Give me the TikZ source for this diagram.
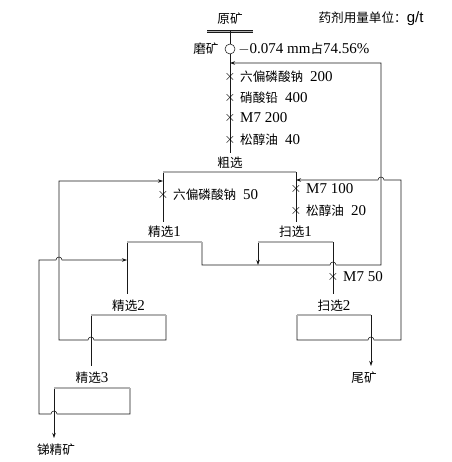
\documentclass[tikz,border=0pt]{standalone}
\usepackage{fontspec}
\setmainfont{Liberation Serif}
\setsansfont{Liberation Sans}
\newfontfamily\cjk{Noto Sans CJK SC}[Scale=0.84]
\usetikzlibrary{arrows.meta,positioning,calc}

\tikzset{
	pipe/.style={line width=0.55pt,draw=black!90},
	cell/.style={double=black!30,double distance=1.1pt,line width=0.5pt,draw=black!90},
	tip/.style={-{Stealth[length=5pt,width=3.5pt]}},
	lbl/.style={font=\fontsize{15}{17}\selectfont,inner sep=1pt},
	dose/.style={font=\fontsize{15}{17}\selectfont,inner sep=1pt,anchor=west},
}
% bump over a crossing line, going right / going left
\newcommand{\hopR}[1]{-- ($(#1)+(-3,0)$) arc[start angle=180,end angle=0,radius=3]}
\newcommand{\hopL}[1]{-- ($(#1)+(3,0)$) arc[start angle=0,end angle=180,radius=3]}
% reagent addition: cross on the line and dosage text
\newcommand{\reagent}[3]{\node[lbl,font=\fontsize{14}{16}\selectfont] (#1) at (#2) {$\times$};
	\node[dose] (#1t) at ($(#2)+(9,0)$) {#3};}
\newcommand{\gap}{\hspace{7pt}}

\begin{document}
\begin{tikzpicture}[x=1pt,y=1pt]
	\useasboundingbox (0,0) rectangle (451,-462);
	% feed and grinding
	\node[lbl] (ore) at (230,-19) {\cjk 原矿};
	\node[lbl] (unit) at (371,-19) {{\cjk 药剂用量单位：}{\sffamily g/t}};
	\coordinate (oreL) at (207,-31.5);
	\coordinate (oreR) at (253,-31.5);
	\coordinate (oreB) at (230,-31.5);
	\node[pipe,circle,minimum size=10pt,inner sep=0pt] (mill) at (230,-49) {};
	\node[lbl,left=5pt of mill] (millname) {\cjk 磨矿};
	\node[lbl,right=2pt of mill] (size) {$-$0.074 mm{\cjk 占}74.56\%};
	\coordinate (feedEnd) at (230,-153);
	\draw[cell] (oreL) -- (oreR);
	\draw[pipe] (oreB) -- (mill);
	\draw[pipe] (mill) -- (feedEnd);
	\reagent{r1}{230,-77}{{\cjk 六偏磷酸钠}\gap 200}
	\reagent{r2}{230,-98}{{\cjk 硝酸铅}\gap 400}
	\reagent{r3}{230,-118}{M7 200}
	\reagent{r4}{230,-140}{{\cjk 松醇油}\gap 40}

	% roughing
	\node[lbl] (rough) at (230,-163) {\cjk 粗选};
	\coordinate (roL) at (163,-172);
	\coordinate (roR) at (296,-172);
	\coordinate (roLB) at (163,-222);
	\coordinate (roRB) at (296,-222);
	\coordinate (roIn) at (163,-181);
	\coordinate (roRin) at (296,-180);
	\draw[pipe] (roL) -- (roLB);
	\draw[pipe] (roR) -- (roRB);
	\draw[cell] (roL) -- (roR);
	\reagent{r5}{163,-195}{{\cjk 六偏磷酸钠}\gap 50}
	\reagent{r6}{296,-189}{M7 100}
	\reagent{r7}{296,-211}{{\cjk 松醇油}\gap 20}

	% cleaner 1 and scavenger 1
	\node[lbl] (clean1) at (164.5,-232) {{\cjk 精选}1};
	\node[lbl] (scav1) at (295.5,-232) {{\cjk 扫选}1};
	\coordinate (c1L) at (127,-242);
	\coordinate (c1R) at (202,-242);
	\coordinate (c1LB) at (127,-294);
	\coordinate (c1RB) at (202,-265);
	\coordinate (c1In) at (127,-260);
	\coordinate (s1L) at (258,-242);
	\coordinate (s1R) at (333,-242);
	\coordinate (s1LB) at (258,-265);
	\coordinate (s1RB) at (333,-294);
	\coordinate (s1hop) at (333,-265);
	\coordinate (midR) at (381,-265);
	\coordinate (retTop) at (381,-63);
	\coordinate (retIn) at (230,-63);
	\draw[pipe] (c1L) -- (c1LB);
	\draw[pipe,tip] (c1R) -- (c1RB) \hopR{s1hop} -- (midR) -- (retTop) -- (retIn);
	\draw[pipe,tip] (s1L) -- (s1LB);
	\draw[pipe] (s1R) -- (s1RB);
	\draw[cell] (c1L) -- (c1R);
	\draw[cell] (s1L) -- (s1R);
	\reagent{r8}{333,-277}{M7 50}

	% cleaner 2 and scavenger 2
	\node[lbl] (clean2) at (128.5,-306) {{\cjk 精选}2};
	\node[lbl] (scav2) at (334,-306) {{\cjk 扫选}2};
	\coordinate (c2L) at (91,-315);
	\coordinate (c2R) at (166,-315);
	\coordinate (c2LB) at (91,-366);
	\coordinate (c2RB) at (166,-340);
	\coordinate (c2hop) at (91,-340);
	\coordinate (c2Back) at (59,-340);
	\coordinate (c2Up) at (59,-181);
	\coordinate (s2L) at (297,-315);
	\coordinate (s2R) at (371,-315);
	\coordinate (s2LB) at (297,-340);
	\coordinate (s2hop) at (371,-340);
	\coordinate (s2Back) at (401,-340);
	\coordinate (s2Up) at (401,-180);
	\coordinate (retHop) at (381,-180);
	\coordinate (tail) at (371,-366);
	\draw[pipe] (c2L) -- (c2LB);
	\draw[pipe,tip] (c2R) -- (c2RB) \hopL{c2hop} -- (c2Back) -- (c2Up) -- (roIn);
	\draw[pipe,tip] (s2L) -- (s2LB) \hopR{s2hop} -- (s2Back) -- (s2Up) \hopL{retHop} -- (roRin);
	\draw[pipe,tip] (s2R) -- (tail);
	\draw[cell] (c2L) -- (c2R);
	\draw[cell] (s2L) -- (s2R);
	\node[lbl] (tailname) at (364,-378) {\cjk 尾矿};

	% cleaner 3
	\node[lbl] (clean3) at (92,-378) {{\cjk 精选}3};
	\coordinate (c3L) at (54,-388);
	\coordinate (c3R) at (130,-388);
	\coordinate (c3RB) at (130,-414);
	\coordinate (c3hop) at (54,-414);
	\coordinate (c3Back) at (39,-414);
	\coordinate (c3Up) at (39,-260);
	\coordinate (upHop) at (59,-260);
	\coordinate (conc) at (54,-438);
	\draw[pipe,tip] (c3R) -- (c3RB) \hopL{c3hop} -- (c3Back) -- (c3Up) \hopR{upHop} -- (c1In);
	\draw[pipe,tip] (c3L) -- (conc);
	\draw[cell] (c3L) -- (c3R);
	\node[lbl] (concname) at (56,-450) {\cjk 锑精矿};
\end{tikzpicture}
\end{document}
